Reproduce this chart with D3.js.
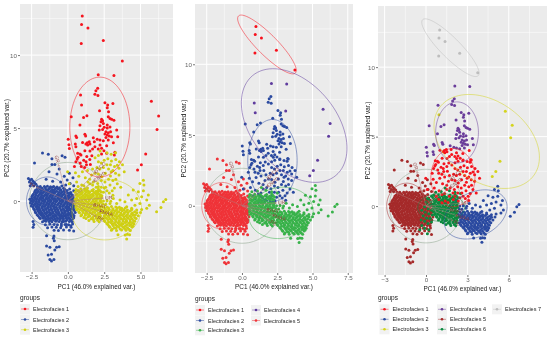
<!DOCTYPE html>
<html><head><meta charset="utf-8">
<script src="https://cdn.jsdelivr.net/npm/d3@7"></script>
<style>html,body{margin:0;padding:0;background:#fff}svg{display:block;filter:blur(.3px)}text{font-family:"Liberation Sans",Arial,sans-serif}</style>
</head><body><svg id="c" width="550" height="338"></svg>
<script>
// ---------- values (PC1, PC2) ----------
const ptsTop=[[.99,12.67],[.94,12.1],[1.38,11.85],[.92,10.8],[2.44,11],[3.75,9.6]];
const ptsSparseA=[[2.09,8.65],[3.17,8.6],[.87,7.26],[3.1,6.69]];
const ptsSparseB=[[.94,6.58],[5.75,6.83],[6.25,5.82],[6.14,4.91],[5.36,3.22],[5.06,2.49],[4.8,2.13]];
const ptsMidUpper=[[2.05,7.72],[1.93,7.56],[1.86,7.31],[2.07,7.24],[2.55,6.74],[2.74,6.58],[2.71,6.39],[2.18,6.19],[2.8,6.12],[.23,5.78],[1.08,5.73],[1.31,5.85],[2.78,5.78],[2.9,5.66],[3.01,5.6],[3.17,5.53],[2.32,5.6],[2.39,5.5],[2.28,5.44],[2.44,5.32],[.83,5.21],[2.71,5.21],[2.21,5.16],[2.5,5.05],[2.71,5],[2.9,5.07],[2.39,4.91],[2.16,4.87],[3.36,4.87],[2.62,4.75],[2.78,4.68],[2.94,4.75],[2.55,4.59],[2.71,4.52],[2.85,4.45],[3.01,4.41],[3.43,4.41],[2.62,4.36],[1.17,4.57],[1.22,4.45],[.55,4.45],[.6,4.36],[.02,4.23],[1.75,4.34],[2.02,4.23],[2.21,4.18],[2.44,4.13],[2.78,4.18],[.07,3.86],[.51,3.91],[.55,3.72],[.1,3.6]];
const ptsMidLowerA=[[1.47,4.07],[1.33,4],[1.24,3.91],[1.01,4.02],[1.82,4.07],[3.13,4],[1.36,3.84],[1.52,3.91],[2.21,3.84],[2.67,3.79],[1.86,3.72],[1.7,3.56],[2.32,3.61],[2.09,3.56],[1.17,3.45],[1.52,3.43],[2.48,3.45],[2.67,3.27],[3.24,3.34],[3.2,3.15],[.67,3.27],[.83,3.22],[.9,3.15],[2.32,3.22],[.64,2.88],[.45,2.37],[.92,2.37],[1.28,2.49],[1.09,2.79],[1.51,2.84],[.7,3],[1.3,3.05],[1.65,3.1],[.55,2.7],[.85,2.6],[1.25,2.7],[1.55,2.5],[1.15,2.3]];
const ptsMidLowerC=[[-.02,2.01],[.52,1.94],[.09,1.19],[1.63,1.78],[1.75,1.3],[1.51,1.19],[1.16,.83],[.92,.48],[1.16,.24],[1.39,.36],[1.7,2.2],[1.35,2.1],[1,2],[.75,1.7],[1.2,1.6],[1.5,1.5],[.6,1.3],[.95,1.1],[1.35,.9],[1.7,.7],[.75,.7],[1.6,.25]];
const ptsMidLowerB=[[1.87,2.96],[2.1,3.12],[2.22,3.43],[2.69,3.31],[2.98,3.2],[3.28,3.31],[2.69,2.49],[2.93,2.49],[3.21,2.37],[3.52,2.25],[3.76,2.49],[2.98,2.01],[2.58,1.9],[2.34,1.66],[2.93,1.71],[3.28,1.9],[3.52,1.78],[3.88,2.01],[1.87,1.9],[1.98,.48],[2.34,.36],[2.69,.71],[3.05,.71],[3.4,1.19],[3.64,.95],[2.1,2.7],[2.3,2.6],[2.5,2.8],[2.75,2.9],[3,2.75],[3.3,2.85],[3.55,2.7],[2,2.3],[2.2,2.2],[2.45,2.3],[2.8,2.2],[3.1,2.1],[3.4,2.45],[2.1,1.85],[2.3,1.4],[2.55,1.3],[2.8,1.5],[3.1,1.4],[3.3,1.5],[2.05,1.2],[2.3,.95],[2.6,.95],[2.9,1.1],[3.2,.9],[2.1,.7],[2.45,.6],[2.85,.55],[3.1,.4],[1.95,.95]];
const ptsLeft=[[-2.72,1.55],[-2.6,1.45],[-2.5,1.5],[-2.4,1.35],[-2.65,1.3],[-2.3,1.25],[-2.5,1.2],[-2.2,1.15],[-2.35,1.05],[-2.1,1],[-2.6,1.05],[-1.75,3.3],[-1.35,3.2],[-1.1,2.9],[-.4,3.1],[-.2,3],[-2.3,2.6],[-1.1,2.5],[-.9,2.5],[-.6,2.2],[-1.3,2],[-.75,1.85],[-.25,1.7],[.1,1.9],[-.05,1.45],[.35,1.6],[-1.5,1.5],[-1.05,1.35],[-.5,1.3],[.15,1.2],[.4,1.05],[-.15,1.1],
[-1.9,1],[-1.62,1],[-1.41,1.02],[-1.2,.98],[-.98,1],[-.75,.97],[-.42,1.03],
[-2.15,.8],[-1.95,.82],[-1.74,.78],[-1.52,.8],[-1.33,.82],[-1.11,.79],[-.92,.8],[-.7,.82],[-.49,.78],[-.22,.8],[.12,.83],
[-2.3,.6],[-2.1,.62],[-1.88,.58],[-1.69,.6],[-1.47,.62],[-1.28,.58],[-1.06,.6],[-.87,.62],[-.63,.58],[-.41,.6],[-.18,.62],[.2,.58],
[-2.42,.4],[-2.22,.42],[-2.03,.38],[-1.81,.4],[-1.6,.42],[-1.42,.38],[-1.2,.4],[-1.01,.42],[-.79,.38],[-.58,.4],[-.37,.42],[-.14,.38],[.08,.4],[.31,.42],
[-2.5,.2],[-2.31,.22],[-2.12,.18],[-1.92,.2],[-1.73,.22],[-1.52,.18],[-1.33,.2],[-1.13,.22],[-.92,.18],[-.71,.2],[-.5,.22],[-.3,.18],[-.08,.2],[.14,.22],[.38,.18],
[-2.55,0],[-2.36,.02],[-2.17,-.02],[-1.96,0],[-1.76,.02],[-1.57,-.02],[-1.36,0],[-1.17,.02],[-.96,-.02],[-.76,0],[-.55,.02],[-.33,-.02],[-.12,0],[.1,.02],[.3,-.02],[.48,0],
[-2.48,-.2],[-2.27,-.18],[-2.08,-.22],[-1.89,-.2],[-1.68,-.18],[-1.48,-.22],[-1.29,-.2],[-1.08,-.18],[-.88,-.22],[-.66,-.2],[-.46,-.18],[-.25,-.22],[-.03,-.2],[.2,-.18],[.42,-.22],
[-2.4,-.4],[-2.2,-.38],[-2,-.42],[-1.79,-.4],[-1.6,-.38],[-1.4,-.42],[-1.2,-.4],[-1,-.38],[-.8,-.42],[-.58,-.4],[-.37,-.38],[-.16,-.42],[.06,-.4],[.28,-.38],[.47,-.42],
[-2.3,-.6],[-2.1,-.58],[-1.92,-.62],[-1.72,-.6],[-1.5,-.58],[-1.31,-.62],[-1.11,-.6],[-.91,-.58],[-.7,-.62],[-.49,-.6],[-.28,-.58],[-.07,-.62],[.14,-.6],[.38,-.58],
[-2.22,-.8],[-2,-.78],[-1.8,-.82],[-1.6,-.8],[-1.4,-.78],[-1.22,-.82],[-1.02,-.8],[-.8,-.78],[-.6,-.82],[-.4,-.8],[-.19,-.78],[.04,-.82],[.26,-.8],[.5,-.78],
[-2.05,-1],[-1.83,-.98],[-1.63,-1.02],[-1.44,-1],[-1.22,-.98],[-1.03,-1.02],[-.83,-1],[-.63,-.98],[-.42,-1.02],[-.2,-1],[.02,-.98],[.2,-1.02],[.42,-1],
[-1.9,-1.2],[-1.7,-1.18],[-1.5,-1.22],[-1.3,-1.2],[-1.12,-1.18],[-.9,-1.22],[-.7,-1.2],[-.5,-1.18],[-.3,-1.22],[-.1,-1.2],[.1,-1.18],[.34,-1.22],
[-2.4,-1.4],[-1.75,-1.42],[-1.52,-1.38],[-1.3,-1.4],[-1.1,-1.42],[-.85,-1.38],[-.6,-1.4],[-.4,-1.42],[-.15,-1.38],[.1,-1.4],[.3,-1.42],
[-2.35,-1.6],[-1.55,-1.62],[-1.25,-1.58],[-.95,-1.6],[-.72,-1.62],[-.45,-1.58],[-.2,-1.6],[.05,-1.62],[.32,-1.58],
[-2.4,-1.8],[-1.4,-1.82],[-1.1,-1.78],[-.8,-1.8],[-.5,-1.82],[-.1,-1.78],[.22,-1.8],[-.95,-2],[-.65,-2.02],[-.3,-1.98],[.4,-2.05],
[-.96,-2.4],[-1.47,-2.37],[-.94,-2.72],[-1.47,-3.08],[-1.24,-3.17],[-.78,-3.17],[-.6,-3.13],[-.9,-3.35],[-1.13,-3.65],[-1.36,-3.7],[-.96,-4],[-1.24,-4],[-1.13,-4.1],[-1,-2.55]];
const ptsLeftFill=[[-2.05,.93],[-1.78,.87],[-1.55,.92],[-1.27,.88],[-1.06,.94],[-.85,.87],[-.58,.92],[-.3,.88],
[-2.25,.73],[-2.03,.67],[-1.83,.72],[-1.6,.68],[-1.4,.73],[-1.2,.67],[-1,.72],[-.78,.68],[-.55,.73],[-.3,.67],[-.05,.72],
[-2.38,.47],[-2.17,.53],[-1.95,.48],[-1.76,.53],[-1.53,.47],[-1.35,.52],[-1.13,.48],[-.93,.53],[-.7,.47],[-.48,.52],[-.25,.48],[-.02,.53],
[-2.47,.33],[-2.25,.27],[-2.07,.32],[-1.86,.28],[-1.66,.33],[-1.47,.27],[-1.26,.32],[-1.06,.28],[-.84,.33],[-.65,.27],[-.43,.32],[-.2,.28],[.02,.33],[.24,.27],
[-2.62,.13],[-2.42,.07],[-2.23,.12],[-2.02,.08],[-1.84,.13],[-1.63,.07],[-1.44,.12],[-1.23,.08],[-1.04,.13],[-.84,.07],[-.62,.12],[-.42,.08],[-.2,.13],[.02,.07],[.22,.12],[.4,.08],
[-2.58,-.13],[-2.4,-.07],[-2.2,-.12],[-2.02,-.08],[-1.82,-.13],[-1.62,-.07],[-1.42,-.12],[-1.22,-.08],[-1.02,-.13],[-.82,-.07],[-.6,-.12],[-.4,-.08],[-.18,-.13],[.04,-.07],[.25,-.12],
[-2.52,-.33],[-2.34,-.27],[-2.14,-.32],[-1.94,-.28],[-1.74,-.33],[-1.54,-.27],[-1.34,-.32],[-1.14,-.28],[-.94,-.33],[-.72,-.27],[-.52,-.32],[-.3,-.28],[-.08,-.33],[.13,-.27],[.35,-.32],
[-2.36,-.53],[-2.15,-.47],[-1.96,-.52],[-1.76,-.48],[-1.55,-.53],[-1.36,-.47],[-1.15,-.52],[-.95,-.48],[-.74,-.53],[-.54,-.47],[-.33,-.52],[-.1,-.48],[.1,-.53],[.33,-.47],
[-2.25,-.73],[-2.05,-.67],[-1.86,-.72],[-1.66,-.68],[-1.45,-.73],[-1.27,-.67],[-1.06,-.72],[-.86,-.68],[-.65,-.73],[-.44,-.67],[-.22,-.72],[0,-.68],[.22,-.73],
[-2.12,-.93],[-1.9,-.87],[-1.7,-.92],[-1.5,-.88],[-1.3,-.93],[-1.12,-.87],[-.92,-.92],[-.72,-.88],[-.5,-.93],[-.3,-.87],[-.1,-.92],[.12,-.88],[.35,-.93],
[-1.96,-1.13],[-1.75,-1.07],[-1.56,-1.12],[-1.36,-1.08],[-1.15,-1.13],[-.95,-1.07],[-.75,-1.12],[-.55,-1.08],[-.35,-1.13],[-.15,-1.07],[.05,-1.12],[.28,-1.08],
[-1.62,-1.33],[-1.4,-1.27],[-1.2,-1.32],[-1,-1.28],[-.78,-1.33],[-.55,-1.27],[-.33,-1.32],[-.05,-1.28],[.2,-1.33]];
const ptsOverlap=[[.4,.7],[.2,.5],[.35,.3],[.1,.15],[.3,.05],[-.1,-.05],[.15,-.2],[.4,-.3],[-.3,-.3],[-.05,-.45],[.2,-.55],[.45,-.65],[-.2,-.7],[.05,-.85],[.3,-.9],[-.35,-1],[-.1,-1.1],[.15,-1.25],[.4,-1.15],[-.3,-1.4],[-.45,-1.7],[-.1,-1.6],[.2,-1.7],[.1,-2],[.1,.55],[0,.3]];
const ptsRightA=[[.7,1],[1.1,1.05],[1.38,1.3],[1.7,1.1],[2.1,1],[2.5,.9],
[.55,.8],[.9,.82],[1.3,.78],[1.75,.8],[2.1,.83],
[.5,.6],[.75,.62],[1,.58],[1.25,.6],[1.5,.62],[1.8,.58],[2.05,.6],[2.3,.62],
[.55,.4],[.8,.42],[1.05,.38],[1.3,.4],[1.55,.42],[1.75,.38],[2,.4],[2.25,.42],
[.6,.2],[.85,.22],[1.1,.18],[1.35,.2],[1.6,.22],[1.85,.18],[2.1,.2],[2.3,.22],
[.55,0],[.78,.02],[1,-.02],[1.25,0],[1.47,.02],[1.7,-.02],[1.95,0],[2.2,.02],
[.5,-.2],[.75,-.18],[.98,-.22],[1.2,-.2],[1.45,-.18],[1.68,-.22],[1.9,-.2],[2.15,-.18],
[.55,-.4],[.8,-.38],[1.05,-.42],[1.3,-.4],[1.55,-.38],[1.8,-.42],[2.05,-.4],[2.28,-.38],
[.6,-.6],[.85,-.58],[1.1,-.62],[1.35,-.6],[1.6,-.58],[1.85,-.62],[2.1,-.6],
[.8,-.8],[1.05,-.78],[1.3,-.82],[1.55,-.8],[1.85,-.78],[2.1,-.82],[2.3,-.8],
[.9,-1],[1.2,-.98],[1.5,-1.02],[1.8,-1],[2.05,-.98],[2.25,-1.02],
[1.25,-1.2],[1.6,-1.22],[1.95,-1.18],[2.2,-1.2],[1.8,-1.4],[2.15,-1.42],
[.65,.73],[.95,.67],[1.15,.72],[1.4,.68],[1.65,.73],[1.95,.67],[2.2,.72],
[.62,.47],[.9,.53],[1.18,.48],[1.42,.53],[1.68,.47],[1.9,.52],[2.15,.48],
[.7,.33],[.95,.27],[1.2,.32],[1.45,.28],[1.72,.33],[1.98,.27],[2.2,.32],
[.5,.13],[.7,.07],[.95,.12],[1.2,.08],[1.48,.13],[1.75,.07],[2,.12],[2.25,.08],
[.65,-.13],[.9,-.07],[1.12,-.12],[1.35,-.08],[1.6,-.13],[1.82,-.07],[2.05,-.12],[2.28,-.08],
[.6,-.33],[.85,-.27],[1.1,-.32],[1.35,-.28],[1.6,-.33],[1.85,-.27],[2.1,-.32],
[.68,-.53],[.95,-.47],[1.2,-.52],[1.45,-.48],[1.7,-.53],[1.95,-.47],[2.2,-.52],
[.75,-.73],[1,-.67],[1.25,-.72],[1.48,-.68],[1.72,-.73],[1.98,-.67],[2.25,-.72],
[.95,-.93],[1.2,-.87],[1.42,-.92],[1.68,-.88],[1.95,-.93],[2.2,-.87],
[1.1,-1.13],[1.4,-1.07],[1.7,-1.12],[1.95,-1.08],[2.15,-1.13],[1.45,-1.33],[1.75,-1.27],[2.05,-1.32]];
const ptsRightB=[[5.2,1.43],[4.96,1.2],[5.24,1.1],[4.5,.75],[4.85,.64],[5.2,.7],[5.54,.41],[5.08,.3],[4.74,.18],[4.39,.07],[4.16,.41],[5.43,.07],[4.96,-.16],[5.61,-.28],[4.62,-.28],[5.43,-.5],[5.08,-.57],[4.74,-.62],[4.39,-.5],[4.05,-.39],[3.7,-.5],[3.36,-.16],[3.13,.18],[3.59,.07],[3.93,-.05],[2.9,-.16],[6.74,.11],[6.58,-.05],[6.41,-.44],[6.11,-.73],[2.45,0],[2.7,.02],[2.95,-.02],[2.4,-.2],[2.6,-.22],
[2.45,-.4],[2.7,-.42],[3,-.38],[3.3,-.4],[3.55,-.42],
[2.35,-.6],[2.6,-.62],[2.85,-.58],[3.1,-.6],[3.35,-.62],[3.6,-.58],[3.85,-.6],[4.1,-.62],[4.4,-.58],
[2.4,-.8],[2.65,-.78],[2.9,-.82],[3.15,-.8],[3.4,-.78],[3.65,-.82],[3.9,-.8],[4.15,-.78],[4.45,-.82],[4.75,-.8],[5,-.78],
[2.5,-1],[2.75,-1.02],[3,-.98],[3.25,-1],[3.5,-1.02],[3.75,-.98],[4,-1],[4.25,-1.02],[4.5,-.98],[4.85,-1],
[2.4,-1.2],[2.65,-1.18],[2.9,-1.22],[3.15,-1.2],[3.4,-1.18],[3.65,-1.22],[3.9,-1.2],[4.15,-1.18],[4.4,-1.22],[4.7,-1.2],
[2.55,-1.4],[2.8,-1.42],[3.05,-1.38],[3.3,-1.4],[3.55,-1.42],[3.8,-1.38],[4.05,-1.4],[4.3,-1.42],[4.6,-1.38],
[2.75,-1.6],[3.05,-1.58],[3.3,-1.62],[3.55,-1.6],[3.8,-1.58],[4.05,-1.62],[4.35,-1.6],[4.55,-1.58],
[2.9,-1.8],[3.2,-1.82],[3.5,-1.78],[3.8,-1.8],[4.1,-1.82],[4.4,-1.78],
[3,-2],[3.35,-2.02],[3.7,-1.98],[4,-2],[4.3,-2.02],[3.45,-2.3],[3.95,-2.32],[4.1,-2.28],[4.25,-2.3],[4.05,-2.6],
[2.55,-.53],[2.8,-.47],[3.1,-.52],[3.4,-.48],[3.65,-.53],[3.95,-.47],
[2.5,-.73],[2.75,-.67],[3,-.72],[3.25,-.68],[3.5,-.73],[3.75,-.67],[4,-.72],[4.3,-.68],[4.6,-.73],
[2.6,-.93],[2.85,-.87],[3.1,-.92],[3.35,-.88],[3.6,-.93],[3.85,-.87],[4.1,-.92],[4.38,-.88],[4.65,-.93],
[2.55,-1.13],[2.82,-1.07],[3.08,-1.12],[3.35,-1.08],[3.6,-1.13],[3.85,-1.07],[4.1,-1.12],[4.35,-1.08],[4.6,-1.13],
[2.5,-1.33],[2.75,-1.27],[3,-1.32],[3.28,-1.28],[3.52,-1.33],[3.78,-1.27],[4.02,-1.32],[4.28,-1.28],[4.52,-1.33],
[2.68,-1.53],[2.95,-1.47],[3.2,-1.52],[3.45,-1.48],[3.7,-1.53],[3.95,-1.47],[4.2,-1.52],[4.45,-1.48],
[2.85,-1.73],[3.12,-1.67],[3.4,-1.72],[3.68,-1.68],[3.95,-1.73],[4.25,-1.67],[4.48,-1.72],
[3.05,-1.93],[3.3,-1.87],[3.6,-1.92],[3.9,-1.88],[4.2,-1.93]];

const arrowNames=["GR","TH","CNPD","DTCO","UR","BHAT","FMAA","PE"];
const arrowTips=[[-.65,2.5],[-2.15,.95],[1.9,1.45],[1.92,2],[2.45,.2],[1.9,-.28],[2.3,-.7],[1.95,-1.05]];
const circleRadius=2.65;
const xLabel="PC1 (46.0% explained var.)", yLabel="PC2 (20.7% explained var.)", legendTitle="groups";

const groupsA=["Electrofacies 1","Electrofacies 2","Electrofacies 3"];
const groupsB=["Electrofacies 1","Electrofacies 2","Electrofacies 3","Electrofacies 4","Electrofacies 5"];
const groupsC=["Electrofacies 1","Electrofacies 2","Electrofacies 3","Electrofacies 4","Electrofacies 5","Electrofacies 6","Electrofacies 7"];
const colorsA=["#f5141e","#2b4aa0","#cfcf12"];
const colorsB=["#f8101c","#2b4aa0","#38b24a","#5f3c9e","#ef3338"];
const colorsC=["#f5141e","#2b4aa0","#d4d41e","#6a3d9a","#a52a2a","#0b8a3f","#bdbdbd"];

// ellipses: cx, cy, semi-axis a, semi-axis b, tilt in degrees (data space)
const ellipsesA=[[2.2,5.07,2.07,3.42,0],[-1.4,0,1.45,1.65,0],[2.67,-.6,2.4,2.05,10]];
const ellipsesB=[[1.77,11.4,2.85,.72,-45],[2.16,3.2,1.75,2.9,0],[2.75,-.5,2.3,1.8,10],[3.7,5.67,4.6,3,-50],[-1.4,0,1.45,1.65,0]];
const ellipsesC=[[1.95,2.05,1.6,2.1,0],[3.6,-.6,2.4,1.6,25],[4.4,4.65,4.2,2.9,-35],[2.25,5.3,1.55,2.2,0],[-1.4,0,1.45,1.65,0],[1.1,-.1,1.7,1,0],[1.77,11.4,2.85,.72,-45]];

// which group each point set belongs to in each panel; listed in drawing order
const membershipA=[[ptsTop,0],[ptsSparseA,0],[ptsSparseB,0],[ptsMidUpper,0],[ptsMidLowerA,0],[ptsLeft,1],[ptsLeftFill,1],[ptsOverlap,1],[ptsMidLowerC,2],[ptsMidLowerB,2],[ptsRightA,2],[ptsRightB,2]];
const membershipB=[[ptsTop,0],[ptsSparseA,3],[ptsSparseB,3],[ptsLeft,4],[ptsLeftFill,4],[ptsOverlap,4],[ptsMidUpper,1],[ptsMidLowerA,1],[ptsMidLowerC,1],[ptsMidLowerB,1],[ptsRightA,2],[ptsRightB,2]];
const membershipC=[[ptsTop,6],[ptsSparseB,2],[ptsSparseA,3],[ptsMidUpper,3],[ptsRightB,1],[ptsLeft,4],[ptsLeftFill,4],[ptsOverlap,5],[ptsRightA,5],[ptsMidLowerA,0],[ptsMidLowerC,0],[ptsMidLowerB,0]];

const panels=[
 {groups:groupsA,colors:colorsA,ell:ellipsesA,mem:membershipA,xt:[-2.5,0,2.5,5],xm:[-1.25,1.25,3.75,6.25],fmt:d3.format(".1f"),
  xd:[-3.3,7.24],yd:[-4.86,13.5],xr:[20,173],yr:[272,4],xtY:286,ytX:6,
  leg:{tx:20,ty:298,rows:[309,319.5,329.7],cols:[25]}},
 {groups:groupsB,colors:colorsB,ell:ellipsesB,mem:membershipB,xt:[-2.5,0,2.5,5,7.5],xm:[-1.25,1.25,3.75,6.25],fmt:d3.format(".1f"),
  xd:[-3.33,7.87],yd:[-4.75,14.26],xr:[195,353],yr:[273,4],xtY:286,ytX:183,
  leg:{tx:195,ty:299,rows:[310,320.5,330.3],cols:[200,256]}},
 {groups:groupsC,colors:colorsC,ell:ellipsesC,mem:membershipC,xt:[-3,0,3,6],xm:[-1.5,1.5,4.5,7.5],fmt:d3.format("d"),
  xd:[-3.48,8.77],yd:[-4.96,14.4],xr:[378,547],yr:[275,6],xtY:288,ytX:367,
  leg:{tx:378,ty:298,rows:[309.3,319.3,329.3],cols:[384.5,442,497]}}
];

const svg=d3.select("#c");
panels.forEach(p=>{
  const x=d3.scaleLinear().domain(p.xd).range(p.xr);
  const y=d3.scaleLinear().domain(p.yd).range(p.yr);
  const g=svg.append("g");
  const W=p.xr[1]-p.xr[0], H=p.yr[0]-p.yr[1];
  g.append("rect").attr("x",p.xr[0]).attr("y",p.yr[1]).attr("width",W).attr("height",H).attr("fill","#ebebeb");
  const yt=[0,5,10], ym=[-2.5,2.5,7.5,12.5];
  g.selectAll(".vm").data(p.xm).join("line").attr("x1",x).attr("x2",x).attr("y1",p.yr[1]).attr("y2",p.yr[0]).attr("stroke","#fff").attr("stroke-width",.5);
  g.selectAll(".hm").data(ym).join("line").attr("x1",p.xr[0]).attr("x2",p.xr[1]).attr("y1",y).attr("y2",y).attr("stroke","#fff").attr("stroke-width",.5);
  g.selectAll(".vM").data(p.xt).join("line").attr("x1",x).attr("x2",x).attr("y1",p.yr[1]).attr("y2",p.yr[0]).attr("stroke","#fff").attr("stroke-width",1);
  g.selectAll(".hM").data(yt).join("line").attr("x1",p.xr[0]).attr("x2",p.xr[1]).attr("y1",y).attr("y2",y).attr("stroke","#fff").attr("stroke-width",1);

  // axes
  const ax=g.append("g").attr("transform",`translate(0,${p.yr[0]})`).call(d3.axisBottom(x).tickValues(p.xt).tickFormat(p.fmt).tickSize(2).tickPadding(1));
  const ay=g.append("g").attr("transform",`translate(${p.xr[0]},0)`).call(d3.axisLeft(y).tickValues(yt).tickFormat(d3.format("d")).tickSize(2).tickPadding(1));
  [ax,ay].forEach(a=>{a.select(".domain").remove();a.selectAll("line").attr("stroke","#777");a.selectAll("text").attr("fill","#666").attr("font-size",6.2).attr("font-family","Liberation Sans");});

  const line=d3.line().x(d=>x(d[0])).y(d=>y(d[1]));

  // correlation circle
  g.append("path").attr("d",line(d3.range(0,361,4).map(t=>[circleRadius*Math.cos(t*Math.PI/180),circleRadius*Math.sin(t*Math.PI/180)])))
    .attr("fill","none").attr("stroke","#8fa88f").attr("stroke-opacity",.6).attr("stroke-width",.9);

  // points
  p.mem.forEach(([set,k])=>{
    g.append("g").selectAll("circle").data(set).join("circle")
      .attr("cx",d=>x(d[0])).attr("cy",d=>y(d[1])).attr("r",1.5).attr("fill",p.colors[k]);
  });

  // ellipses
  p.ell.forEach((e,k)=>{
    const [cx,cy,a,b,deg]=e, th=deg*Math.PI/180;
    const pts=d3.range(0,361,4).map(t=>{const r=t*Math.PI/180,u=a*Math.cos(r),v=b*Math.sin(r);
      return [cx+u*Math.cos(th)-v*Math.sin(th),cy+u*Math.sin(th)+v*Math.cos(th)];});
    g.append("path").attr("d",line(pts)).attr("fill","none").attr("stroke",p.colors[k]).attr("stroke-opacity",.5).attr("stroke-width",1);
  });

  // variable arrows and labels
  arrowTips.forEach((t,i)=>{
    const x0=x(0),y0=y(0),x1=x(t[0]),y1=y(t[1]);
    const ang=Math.atan2(y1-y0,x1-x0), h=2.2;
    g.append("path").attr("d",`M${x0},${y0}L${x1},${y1}M${x1-h*Math.cos(ang-.5)},${y1-h*Math.sin(ang-.5)}L${x1},${y1}L${x1-h*Math.cos(ang+.5)},${y1-h*Math.sin(ang+.5)}`)
      .attr("fill","none").attr("stroke","#b07a7a").attr("stroke-opacity",.6).attr("stroke-width",.8);
    const deg=Math.atan(t[1]/t[0])*180/Math.PI;
    const lx=x(t[0]*1.15),ly=y(t[1]*1.15);
    g.append("text").attr("transform",`translate(${lx},${ly}) rotate(${-deg})`).attr("text-anchor","middle").attr("dy","0.35em")
      .attr("font-size",5).attr("fill","#8b2f2f").attr("fill-opacity",.85).text(arrowNames[i]);
  });

  // axis titles
  g.append("text").attr("x",(p.xr[0]+p.xr[1])/2).attr("y",p.xtY).attr("dy","0.35em").attr("text-anchor","middle").attr("font-size",7.2).attr("textLength",78).attr("lengthAdjust","spacingAndGlyphs").attr("fill","#222").text(xLabel);
  g.append("text").attr("transform",`translate(${p.ytX},${(p.yr[0]+p.yr[1])/2}) rotate(-90)`).attr("text-anchor","middle").attr("dy","0.35em").attr("font-size",7.2).attr("textLength",78).attr("lengthAdjust","spacingAndGlyphs").attr("fill","#222").text(yLabel);

  // legend
  const L=p.leg;
  g.append("text").attr("x",L.tx).attr("y",L.ty).attr("dy","0.35em").attr("font-size",7).attr("textLength",20).attr("lengthAdjust","spacingAndGlyphs").attr("fill","#222").text(legendTitle);
  p.groups.forEach((name,i)=>{
    const cx=L.cols[Math.floor(i/3)], cy=L.rows[i%3];
    const k=g.append("g");
    k.append("rect").attr("x",cx-5).attr("y",cy-5).attr("width",10).attr("height",10).attr("fill","#f2f2f2");
    k.append("line").attr("x1",cx-4).attr("x2",cx+4).attr("y1",cy).attr("y2",cy).attr("stroke",p.colors[i]).attr("stroke-opacity",.6).attr("stroke-width",.8);
    k.append("circle").attr("cx",cx).attr("cy",cy).attr("r",1.3).attr("fill",p.colors[i]);
    k.append("text").attr("x",cx+8).attr("y",cy).attr("dy","0.35em").attr("font-size",6.2).attr("textLength",36).attr("lengthAdjust","spacingAndGlyphs").attr("fill","#222").text(name);
  });
});
</script></body></html>
